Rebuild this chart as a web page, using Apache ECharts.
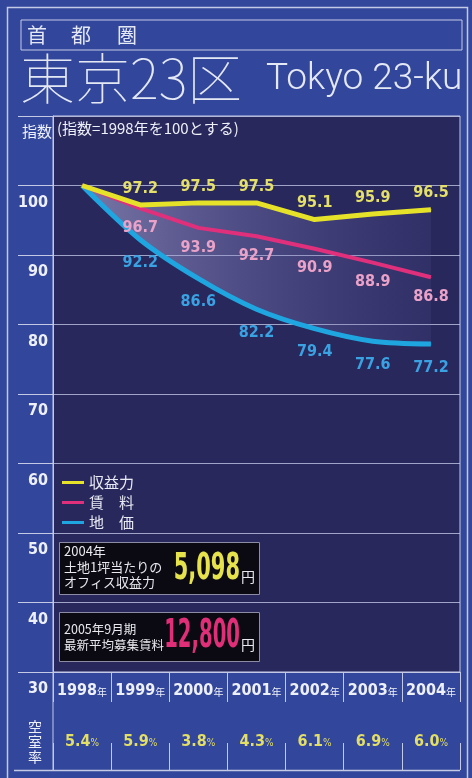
<!DOCTYPE html>
<html>
<head>
<meta charset="utf-8">
<script src="https://cdn.jsdelivr.net/npm/echarts@6/dist/echarts.min.js"></script>
<style>
	html,body{margin:0;padding:0;background:#32469b;}
	#chart{width:472px;height:778px;}
</style>
</head>
<body>
<div id="chart"></div>
<script>
//----------------------------
//		東京23区  指数チャート
//----------------------------
var years		= ["1998","1999","2000","2001","2002","2003","2004"];
var shuekiryoku	= [100, 97.2, 97.5, 97.5, 95.1, 95.9, 96.5];	// 収益力
var chinryo		= [100, 96.7, 93.9, 92.7, 90.9, 88.9, 86.8];	// 賃料
var chika		= [100, 92.2, 86.6, 82.2, 79.4, 77.6, 77.2];	// 地価
var kushitsu	= ["5.4","5.9","3.8","4.3","6.1","6.9","6.0"];	// 空室率 %
var yTicks		= [30, 40, 50, 60, 70, 80, 90, 100];

var NUM_FONT	= "'Liberation Sans Narrow','DejaVu Sans Condensed',sans-serif";
var JP_FONT		= "'Noto Sans CJK JP',sans-serif";
var LINE_CLR	= '#c4cae6';

var myChart = echarts.init(document.getElementById('chart'));

// 収益力と地価の間の塗り (地価の上に積む)
var fillGap = [];
for(var i=0;i<years.length;i++){
	fillGap.push(+(shuekiryoku[i]-chika[i]).toFixed(1));
}

function skipFirst(p){
	return p.dataIndex==0 ? '' : p.value.toFixed(1);
}
function valLabel(color,pos,dist){
	return {show:true,position:pos,distance:dist,formatter:skipFirst,
		color:color,fontFamily:NUM_FONT,fontWeight:'bold',fontSize:16};
}
function txt(text,x,y,size,color,extra){
	var st = {text:text,x:x,y:y,fill:color,fontSize:size,fontFamily:JP_FONT,align:'left',verticalAlign:'middle'};
	for(var k in extra) st[k] = extra[k];
	return {type:'text',silent:true,z:50,style:st};
}
// 縦長の数字 (横を縮める)
function bigNum(text,x,y,size,sx,color){
	return {type:'text',silent:true,z:50,x:x,y:y,scaleX:sx,
		style:{text:text,x:0,y:0,fill:color,fontSize:size,fontFamily:NUM_FONT,fontWeight:'bold',align:'right',verticalAlign:'middle'}};
}

var graphics = [
	// 外枠
	{type:'rect',silent:true,z:0,shape:{x:7.5,y:7.5,width:460,height:800},style:{fill:null,stroke:LINE_CLR,lineWidth:1.5}},
	{type:'rect',silent:true,z:0,shape:{x:21,y:20,width:441,height:30},style:{fill:null,stroke:LINE_CLR,lineWidth:1}},
	txt('首',27,35,20,'#e4e8f4'),
	txt('都',71,35,20,'#e4e8f4'),
	txt('圏',117,35,20,'#e4e8f4'),
	txt('東京23区',20,78,55,'#e4e8f4',{fontWeight:100}),
	txt('Tokyo 23-ku',266,80,37,'#e4e8f4',{fontFamily:'Roboto,sans-serif',fontWeight:300}),
	// ヘッダ
	txt('指数',22,131,15,'#eef0f8'),
	txt('(指数=1998年を100とする)',57,128,15,'#eef0f8'),
	// 左の区切り線 (下段)
	{type:'line',silent:true,z:5,shape:{x1:53,y1:672,x2:53,y2:770},style:{stroke:LINE_CLR,lineWidth:1}},
	{type:'line',silent:true,z:5,shape:{x1:14,y1:770.5,x2:460,y2:770.5},style:{stroke:LINE_CLR,lineWidth:1.5}},
	txt('空\n室\n率',28,742,14,'#eef0f8',{lineHeight:15}),
	// 収益力ボックス
	{type:'rect',silent:true,z:40,shape:{x:59.5,y:542.5,width:200,height:52},style:{fill:'#0b0a12',stroke:'#8c8ca4',lineWidth:1}},
	txt('2004年',64,551,13,'#e8e8ee'),
	txt('土地1坪当たりの',64,567,13,'#e8e8ee'),
	txt('オフィス収益力',64,582,13,'#e8e8ee'),
	bigNum('5,098',240,569,37,0.63,'#e6e24c'),
	txt('円',241,577,14,'#e8e8ee'),
	// 賃料ボックス
	{type:'rect',silent:true,z:40,shape:{x:59.5,y:612.5,width:200,height:49},style:{fill:'#0b0a12',stroke:'#8c8ca4',lineWidth:1}},
	txt('2005年9月期',64,629,12.5,'#e8e8ee'),
	txt('最新平均募集賃料',64,645,12.5,'#e8e8ee'),
	bigNum('12,800',240,637,39,0.56,'#e02f78'),
	txt('円',241,645,14,'#e8e8ee')
];

var option = {
	animation:false,
	backgroundColor:'#32469b',
	legend:{
		orient:'vertical',left:57,top:470,itemGap:5,
		itemWidth:22,itemHeight:3,icon:'rect',
		data:['収益力','賃　料','地　価'],
		textStyle:{color:'#e8eaf4',fontSize:15,fontFamily:JP_FONT}
	},
	grid:{
		left:53,right:12,top:116,bottom:106,
		show:true,backgroundColor:'#28285c',borderColor:LINE_CLR,borderWidth:1
	},
	xAxis:[{
		type:'category',data:years,boundaryGap:true,
		axisLine:{lineStyle:{color:LINE_CLR}},
		axisTick:{show:true,interval:0,length:30,lineStyle:{color:LINE_CLR}},
		axisLabel:{
			interval:0,margin:11,
			formatter:function(v){return '{y|'+v+'}{n|年}';},
			rich:{
				y:{color:'#eef0f8',fontSize:16,fontFamily:NUM_FONT,fontWeight:'bold'},
				n:{color:'#eef0f8',fontSize:10,fontFamily:JP_FONT,padding:[3,0,0,0]}
			}
		}
	},{
		type:'category',data:years,boundaryGap:true,position:'bottom',offset:98,
		axisLine:{show:false},
		axisTick:{show:true,inside:true,interval:0,length:27,lineStyle:{color:LINE_CLR}},
		axisLabel:{
			inside:true,interval:0,margin:20,
			formatter:function(v,idx){return '{v|'+kushitsu[idx]+'}{p|%}';},
			rich:{
				v:{color:'#e2de66',fontSize:16,fontFamily:NUM_FONT,fontWeight:'bold'},
				p:{color:'#e2de66',fontSize:10,fontFamily:NUM_FONT,padding:[3,0,0,0]}
			}
		}
	}],
	yAxis:{
		type:'value',min:30,max:110,interval:10,
		axisLine:{show:true,lineStyle:{color:LINE_CLR}},
		axisTick:{show:true,length:35,lineStyle:{color:LINE_CLR}},
		splitLine:{lineStyle:{color:'rgba(200,206,236,0.75)',width:1}},
		axisLabel:{
			margin:5,verticalAlign:'top',padding:[9,0,0,0],
			color:'#eef0f8',fontSize:16,fontFamily:NUM_FONT,fontWeight:'bold',
			formatter:function(v){return yTicks.indexOf(v)<0 ? '' : v;}
		}
	},
	graphic:graphics,
	series:[{
		name:'地　価',type:'line',stack:'fill',data:chika,smooth:0.3,
		symbol:'circle',symbolSize:1,z:4,
		lineStyle:{color:'#1fa6e0',width:5},itemStyle:{color:'#1fa6e0'},
		label:valLabel('#3aa2e2','bottom',15)
	},{
		name:'fill',type:'line',stack:'fill',data:fillGap,silent:true,
		symbol:'none',z:2,lineStyle:{width:0},
		areaStyle:{
			color:{type:'linear',x:0,y:0,x2:1,y2:0,colorStops:[
				{offset:0,color:'rgba(185,180,225,0.8)'},
				{offset:0.5,color:'rgba(140,135,200,0.5)'},
				{offset:1,color:'rgba(100,95,170,0.2)'}
			]}
		}
	},{
		name:'賃　料',type:'line',data:chinryo,symbol:'circle',symbolSize:1,z:5,
		lineStyle:{color:'#e0307c',width:4},itemStyle:{color:'#e0307c'},
		label:valLabel('#eaa2c8','bottom',11)
	},{
		name:'収益力',type:'line',data:shuekiryoku,symbol:'circle',symbolSize:1,z:6,
		lineStyle:{color:'#e6e22a',width:5},itemStyle:{color:'#e6e22a'},
		label:valLabel('#e4e06a','top',8)
	}]
};

myChart.setOption(option);
</script>
</body>
</html>
